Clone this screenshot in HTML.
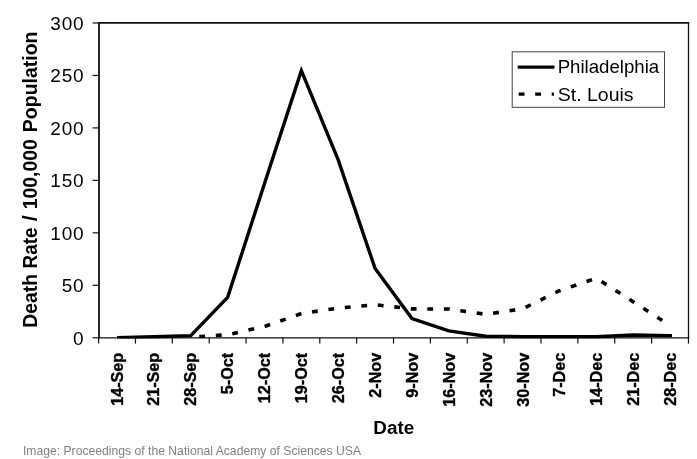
<!DOCTYPE html>
<html><head><meta charset="utf-8"><title>Death Rate chart</title>
<style>html,body{margin:0;padding:0;background:#fff;}svg{display:block;}text{font-family:"Liberation Sans",sans-serif;fill:#000;}</style>
</head><body>
<svg width="697" height="459" viewBox="0 0 697 459" style="filter:grayscale(1)">
<rect x="0" y="0" width="697" height="459" fill="#ffffff"/>
<path d="M99.0 22.05V338.35" stroke="#111" stroke-width="1.8" fill="none"/>
<path d="M98.1 22.9H689.15" stroke="#111" stroke-width="1.7" fill="none"/>
<path d="M688.5 22.05V338.35" stroke="#111" stroke-width="1.3" fill="none"/>
<path d="M98.1 337.8H689.15" stroke="#111" stroke-width="1.2" fill="none"/>
<line x1="92.60" y1="337.75" x2="99.00" y2="337.75" stroke="#111" stroke-width="1.2"/>
<text x="72.95" y="344.75" font-size="19">0</text>
<line x1="92.60" y1="285.29" x2="99.00" y2="285.29" stroke="#111" stroke-width="1.2"/>
<text x="61.65 72.95" y="292.29" font-size="19">50</text>
<line x1="92.60" y1="232.83" x2="99.00" y2="232.83" stroke="#111" stroke-width="1.2"/>
<text x="50.35 61.65 72.95" y="239.83" font-size="19">100</text>
<line x1="92.60" y1="180.38" x2="99.00" y2="180.38" stroke="#111" stroke-width="1.2"/>
<text x="50.35 61.65 72.95" y="187.38" font-size="19">150</text>
<line x1="92.60" y1="127.92" x2="99.00" y2="127.92" stroke="#111" stroke-width="1.2"/>
<text x="50.35 61.65 72.95" y="134.92" font-size="19">200</text>
<line x1="92.60" y1="75.46" x2="99.00" y2="75.46" stroke="#111" stroke-width="1.2"/>
<text x="50.35 61.65 72.95" y="82.46" font-size="19">250</text>
<line x1="92.60" y1="23.00" x2="99.00" y2="23.00" stroke="#111" stroke-width="1.2"/>
<text x="50.35 61.65 72.95" y="30.00" font-size="19">300</text>
<line x1="98.60" y1="337.75" x2="98.60" y2="343.60" stroke="#111" stroke-width="1.2"/>
<line x1="135.47" y1="337.75" x2="135.47" y2="343.60" stroke="#111" stroke-width="1.2"/>
<line x1="172.33" y1="337.75" x2="172.33" y2="343.60" stroke="#111" stroke-width="1.2"/>
<line x1="209.20" y1="337.75" x2="209.20" y2="343.60" stroke="#111" stroke-width="1.2"/>
<line x1="246.06" y1="337.75" x2="246.06" y2="343.60" stroke="#111" stroke-width="1.2"/>
<line x1="282.93" y1="337.75" x2="282.93" y2="343.60" stroke="#111" stroke-width="1.2"/>
<line x1="319.79" y1="337.75" x2="319.79" y2="343.60" stroke="#111" stroke-width="1.2"/>
<line x1="356.66" y1="337.75" x2="356.66" y2="343.60" stroke="#111" stroke-width="1.2"/>
<line x1="393.52" y1="337.75" x2="393.52" y2="343.60" stroke="#111" stroke-width="1.2"/>
<line x1="430.39" y1="337.75" x2="430.39" y2="343.60" stroke="#111" stroke-width="1.2"/>
<line x1="467.26" y1="337.75" x2="467.26" y2="343.60" stroke="#111" stroke-width="1.2"/>
<line x1="504.12" y1="337.75" x2="504.12" y2="343.60" stroke="#111" stroke-width="1.2"/>
<line x1="540.99" y1="337.75" x2="540.99" y2="343.60" stroke="#111" stroke-width="1.2"/>
<line x1="577.85" y1="337.75" x2="577.85" y2="343.60" stroke="#111" stroke-width="1.2"/>
<line x1="614.72" y1="337.75" x2="614.72" y2="343.60" stroke="#111" stroke-width="1.2"/>
<line x1="651.58" y1="337.75" x2="651.58" y2="343.60" stroke="#111" stroke-width="1.2"/>
<line x1="688.45" y1="337.75" x2="688.45" y2="343.60" stroke="#111" stroke-width="1.2"/>
<text transform="translate(122.50,352.8) rotate(-90) scale(1.012,1)" text-anchor="end" font-weight="bold" font-size="16" stroke="#000" stroke-width="0.35">14-Sep</text>
<text transform="translate(159.41,352.8) rotate(-90) scale(1.012,1)" text-anchor="end" font-weight="bold" font-size="16" stroke="#000" stroke-width="0.35">21-Sep</text>
<text transform="translate(196.32,352.8) rotate(-90) scale(1.012,1)" text-anchor="end" font-weight="bold" font-size="16" stroke="#000" stroke-width="0.35">28-Sep</text>
<text transform="translate(233.23,352.8) rotate(-90) scale(1.012,1)" text-anchor="end" font-weight="bold" font-size="16" stroke="#000" stroke-width="0.35">5-Oct</text>
<text transform="translate(270.14,352.8) rotate(-90) scale(1.012,1)" text-anchor="end" font-weight="bold" font-size="16" stroke="#000" stroke-width="0.35">12-Oct</text>
<text transform="translate(307.05,352.8) rotate(-90) scale(1.012,1)" text-anchor="end" font-weight="bold" font-size="16" stroke="#000" stroke-width="0.35">19-Oct</text>
<text transform="translate(343.96,352.8) rotate(-90) scale(1.012,1)" text-anchor="end" font-weight="bold" font-size="16" stroke="#000" stroke-width="0.35">26-Oct</text>
<text transform="translate(380.87,352.8) rotate(-90) scale(1.012,1)" text-anchor="end" font-weight="bold" font-size="16" stroke="#000" stroke-width="0.35">2-Nov</text>
<text transform="translate(417.78,352.8) rotate(-90) scale(1.012,1)" text-anchor="end" font-weight="bold" font-size="16" stroke="#000" stroke-width="0.35">9-Nov</text>
<text transform="translate(454.69,352.8) rotate(-90) scale(1.012,1)" text-anchor="end" font-weight="bold" font-size="16" stroke="#000" stroke-width="0.35">16-Nov</text>
<text transform="translate(491.60,352.8) rotate(-90) scale(1.012,1)" text-anchor="end" font-weight="bold" font-size="16" stroke="#000" stroke-width="0.35">23-Nov</text>
<text transform="translate(528.51,352.8) rotate(-90) scale(1.012,1)" text-anchor="end" font-weight="bold" font-size="16" stroke="#000" stroke-width="0.35">30-Nov</text>
<text transform="translate(565.42,352.8) rotate(-90) scale(1.012,1)" text-anchor="end" font-weight="bold" font-size="16" stroke="#000" stroke-width="0.35">7-Dec</text>
<text transform="translate(602.33,352.8) rotate(-90) scale(1.012,1)" text-anchor="end" font-weight="bold" font-size="16" stroke="#000" stroke-width="0.35">14-Dec</text>
<text transform="translate(639.24,352.8) rotate(-90) scale(1.012,1)" text-anchor="end" font-weight="bold" font-size="16" stroke="#000" stroke-width="0.35">21-Dec</text>
<text transform="translate(676.15,352.8) rotate(-90) scale(1.012,1)" text-anchor="end" font-weight="bold" font-size="16" stroke="#000" stroke-width="0.35">28-Dec</text>
<clipPath id="pa"><rect x="99" y="22.9" width="589.5" height="315.5"/></clipPath>
<g clip-path="url(#pa)">
<polyline points="117.03,337.75 153.90,336.70 190.76,335.65 227.63,297.36 264.50,183.52 301.36,70.63 338.23,159.92 375.09,268.50 411.96,318.55 448.82,330.83 485.69,336.28 522.55,336.70 559.42,336.70 596.29,336.70 633.15,335.02 670.02,335.65 672.02,335.65" fill="none" stroke="#000" stroke-width="3.4" stroke-linejoin="miter" stroke-linecap="butt"/>
<polyline points="190.76,337.12 227.63,334.71 264.50,326.52 301.36,313.62 338.23,308.06 375.09,304.70 411.96,308.90 448.82,309.00 485.69,314.35 522.55,308.79 559.42,290.75 596.29,278.16 633.15,301.66 670.02,325.47" fill="none" stroke="#000" stroke-width="3.6" stroke-dasharray="5.8 10.77" stroke-dashoffset="-8.55"/>
</g>
<rect x="512.2" y="51.8" width="152.3" height="55.5" fill="#fff" stroke="#444" stroke-width="1"/>
<line x1="517.7" y1="67.2" x2="554.5" y2="67.2" stroke="#000" stroke-width="3.2"/>
<line x1="518.7" y1="94.2" x2="553.9" y2="94.2" stroke="#000" stroke-width="3.3" stroke-dasharray="5.8 10.7"/>
<text transform="translate(557.67,73.40) scale(0.9810,1)" font-size="19">Philadelphia</text>
<text transform="translate(557.75,101.30) scale(1.0255,1)" font-size="19">St. Louis</text>
<text transform="translate(373.36,434.40) scale(0.9920,1)" font-size="19" font-weight="bold">Date</text>
<text transform="translate(37.00,327.74) rotate(-90) scale(0.9911,1)" font-size="19.5" font-weight="bold">Death</text>
<text transform="translate(37.00,268.42) rotate(-90) scale(0.9657,1)" font-size="19.5" font-weight="bold">Rate</text>
<text transform="translate(37.00,221.35) rotate(-90) scale(1.1167,1)" font-size="19.5" font-weight="bold">/</text>
<text transform="translate(37.00,209.35) rotate(-90) scale(0.9965,1)" font-size="19.5" font-weight="bold">100,000</text>
<text transform="translate(37.00,132.15) rotate(-90) scale(0.9997,1)" font-size="19.5" font-weight="bold">Population</text>
<text transform="translate(22.94,454.90) scale(1.0145,1)" font-size="12" style="fill:#808080">Image: Proceedings of the National Academy of Sciences USA</text>
</svg>
</body></html>
